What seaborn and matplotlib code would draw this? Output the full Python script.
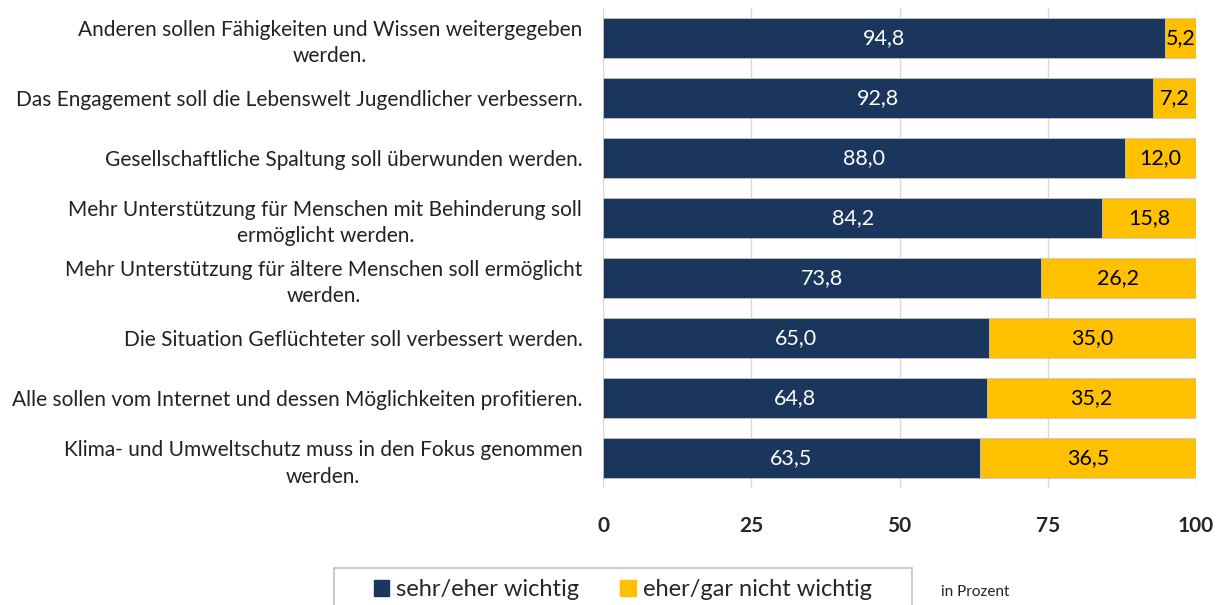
import pandas as pd
import seaborn as sns
import matplotlib.pyplot as plt
from matplotlib.patches import Patch, Rectangle

kategorien = [
    "Anderen sollen Fähigkeiten und Wissen weitergegeben\nwerden.",
    "Das Engagement soll die Lebenswelt Jugendlicher verbessern.",
    "Gesellschaftliche Spaltung soll überwunden werden.",
    "Mehr Unterstützung für Menschen mit Behinderung soll\nermöglicht werden.",
    "Mehr Unterstützung für ältere Menschen soll ermöglicht\nwerden.",
    "Die Situation Geflüchteter soll verbessert werden.",
    "Alle sollen vom Internet und dessen Möglichkeiten profitieren.",
    "Klima- und Umweltschutz muss in den Fokus genommen\nwerden.",
]
wichtig = [94.8, 92.8, 88.0, 84.2, 73.8, 65.0, 64.8, 63.5]
nicht_wichtig = [5.2, 7.2, 12.0, 15.8, 26.2, 35.0, 35.2, 36.5]
ticks = [0, 25, 50, 75, 100]

navy = "#1b365d"
gelb = "#ffc000"

df = pd.DataFrame({"Kategorie": kategorien, "wichtig": wichtig, "nicht": nicht_wichtig})
df["gesamt"] = df["wichtig"] + df["nicht"]

sns.set_style("white")
plt.rcParams["font.family"] = ["Lato", "DejaVu Sans"]

fig = plt.figure(figsize=(12.16, 6.05), dpi=100)
ax = fig.add_axes([0.496, 0.193, 0.4876, 0.794])

# gestapelt: erst Gesamtbalken gelb, dann den Anteil "wichtig" darüber
sns.barplot(data=df, x="gesamt", y="Kategorie", color=gelb, width=0.667,
            saturation=1, edgecolor="#c8c8c8", linewidth=0.6, ax=ax)
sns.barplot(data=df, x="wichtig", y="Kategorie", color=navy, width=0.667,
            saturation=1, edgecolor="#c8c8c8", linewidth=0.6, ax=ax)

for i, (w, n) in enumerate(zip(wichtig, nicht_wichtig)):
    ax.text(w / 2, i, f"{w:.1f}".replace(".", ","), color="white",
            ha="center", va="center", fontsize=15.5)
    ax.text(w + n / 2, i, f"{n:.1f}".replace(".", ","), color="black",
            ha="center", va="center", fontsize=15.5)

ax.set_xlim(0, 100)
ax.set_ylim(7.5, -0.5)
ax.set_xticks(ticks)
ax.set_xticklabels([str(t) for t in ticks], fontsize=15, fontweight="bold")
ax.tick_params(axis="x", length=0, pad=20)
ax.tick_params(axis="y", length=0, pad=15)

# rechtsbündig, mehrzeilige Beschriftung in sich zentriert
for lab in ax.get_yticklabels():
    lab.set_multialignment("center")
    lab.set_fontsize(15)
    lab.set_linespacing(1.4)
    lab.set_color("#222222")

ax.set_xlabel("")
ax.set_ylabel("")
ax.grid(axis="x", color="#d9d9d9", linewidth=1)
ax.set_axisbelow(True)
for s in ax.spines.values():
    s.set_visible(False)

handles = [Patch(color=navy, label="sehr/eher wichtig"),
           Patch(color=gelb, label="eher/gar nicht wichtig")]
fig.legend(handles=handles, loc="center left", bbox_to_anchor=(374 / 1216, 1 - 590 / 605),
           ncol=2, fontsize=17, frameon=False, borderpad=0, borderaxespad=0,
           handlelength=0.64, handleheight=0.64, handletextpad=0.3,
           columnspacing=1.74)
fig.add_artist(Rectangle((334 / 1216, -0.05), (912 - 334) / 1216, 0.05 + 37 / 605,
                         transform=fig.transFigure, fill=False,
                         edgecolor="#c0c0c0", linewidth=1.2))
fig.text(941 / 1216, 1 - 592 / 605, "in Prozent", fontsize=11, color="#222222", va="center")

fig.savefig("out.png", dpi=100)
